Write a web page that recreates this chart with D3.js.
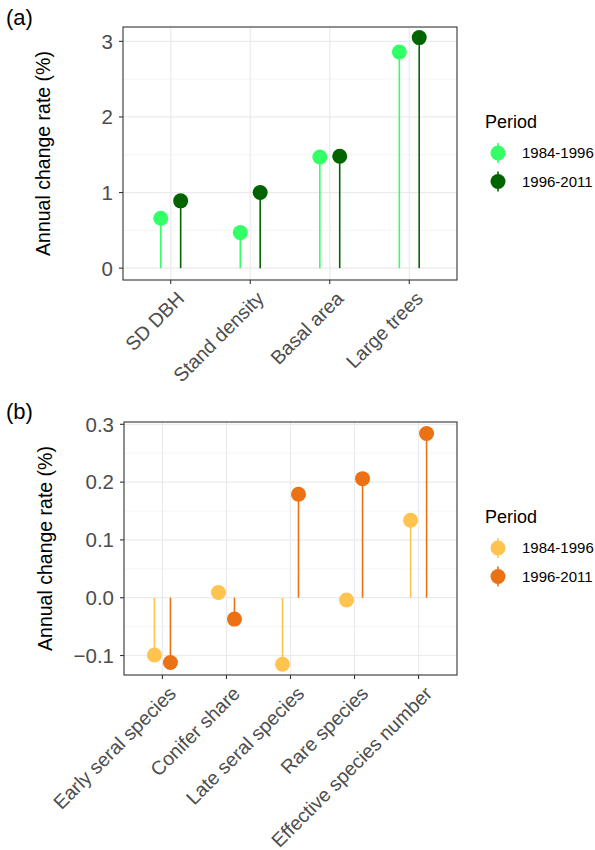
<!DOCTYPE html>
<html>
<head>
<meta charset="utf-8">
<script src="https://cdn.jsdelivr.net/npm/d3@7"></script>
<style>
  body { margin: 0; background: #fff; }
  svg { font-family: "Liberation Sans", Arial, sans-serif; }
</style>
</head>
<body>
<svg id="chart" width="595" height="850"></svg>
<script>
// panel (a)
var catsA = ["SD DBH", "Stand density", "Basal area", "Large trees"];
var earlyA = [0.66, 0.47, 1.47, 2.86];
var lateA = [0.89, 1.00, 1.48, 3.05];
var ticksA = [0, 1, 2, 3];
var minorA = [0.5, 1.5, 2.5];

// panel (b)
var catsB = ["Early seral species", "Conifer share", "Late seral species", "Rare species", "Effective species number"];
var earlyB = [-0.099, 0.009, -0.115, -0.004, 0.134];
var lateB = [-0.112, -0.037, 0.179, 0.206, 0.284];
var ticksB = [-0.1, 0.0, 0.1, 0.2, 0.3];
var minorB = [-0.05, 0.05, 0.15, 0.25];

var periods = ["1984-1996", "1996-2011"];

var svg = d3.select("#chart");

function drawPanel(o) {
  var g = svg.append("g");
  var x = d3.scalePoint().domain(o.cats).range([o.left, o.right]).padding(0.6);
  var y = d3.scaleLinear().domain(o.ydom).range([o.bottom, o.top]);
  var step = x.step();

  // grid
  g.selectAll(".minor").data(o.minor).enter().append("line")
    .attr("x1", o.left).attr("x2", o.right)
    .attr("y1", d => y(d)).attr("y2", d => y(d))
    .attr("stroke", "#f2f2f2").attr("stroke-width", 0.8);
  g.selectAll(".major").data(o.ticks).enter().append("line")
    .attr("x1", o.left).attr("x2", o.right)
    .attr("y1", d => y(d)).attr("y2", d => y(d))
    .attr("stroke", "#ebebeb").attr("stroke-width", 1.2);
  g.selectAll(".vmajor").data(o.cats).enter().append("line")
    .attr("x1", d => x(d)).attr("x2", d => x(d))
    .attr("y1", o.top).attr("y2", o.bottom)
    .attr("stroke", "#ebebeb").attr("stroke-width", 1.2);

  // lollipops
  var series = [o.early, o.late];
  series.forEach(function(vals, si) {
    var off = (si == 0 ? -0.125 : 0.125) * step;
    var col = o.colors[si];
    g.selectAll(".stem" + si).data(vals).enter().append("line")
      .attr("x1", (d, i) => x(o.cats[i]) + off).attr("x2", (d, i) => x(o.cats[i]) + off)
      .attr("y1", y(0)).attr("y2", d => y(d))
      .attr("stroke", col).attr("stroke-width", 1.6);
    g.selectAll(".dot" + si).data(vals).enter().append("circle")
      .attr("cx", (d, i) => x(o.cats[i]) + off).attr("cy", d => y(d))
      .attr("r", 7.5).attr("fill", col);
  });

  // border
  g.append("rect").attr("x", o.left).attr("y", o.top)
    .attr("width", o.right - o.left).attr("height", o.bottom - o.top)
    .attr("fill", "none").attr("stroke", "#333").attr("stroke-width", 1.1);

  // y axis ticks
  g.selectAll(".yt").data(o.ticks).enter().append("line")
    .attr("x1", o.left - 4).attr("x2", o.left)
    .attr("y1", d => y(d)).attr("y2", d => y(d))
    .attr("stroke", "#333").attr("stroke-width", 1.1);
  g.selectAll(".yl").data(o.ticks).enter().append("text")
    .attr("x", o.left - 10).attr("y", d => y(d)).attr("dy", "0.36em")
    .attr("text-anchor", "end").attr("font-size", 20.5).attr("fill", "#4d4d4d")
    .text(d => o.fmt(d));

  // x axis ticks
  g.selectAll(".xt").data(o.cats).enter().append("line")
    .attr("x1", d => x(d)).attr("x2", d => x(d))
    .attr("y1", o.bottom).attr("y2", o.bottom + 4)
    .attr("stroke", "#333").attr("stroke-width", 1.1);
  g.selectAll(".xl").data(o.cats).enter().append("text")
    .attr("transform", d => "translate(" + (x(d) + 5) + "," + (o.bottom + 10) + ") rotate(-45)")
    .attr("dy", "0.71em")
    .attr("text-anchor", "end").attr("font-size", 19.5).attr("fill", "#4d4d4d")
    .text(d => d);

  // y title
  g.append("text")
    .attr("transform", "translate(" + o.titleX + "," + ((o.top + o.bottom) / 2) + ") rotate(-90)")
    .attr("text-anchor", "middle").attr("font-size", 19.5).attr("fill", "#000")
    .text("Annual change rate (%)");

  // panel tag
  g.append("text").attr("x", 6).attr("y", o.tagY)
    .attr("font-size", 22).attr("fill", "#000").text(o.tag);

  // legend
  var lg = g.append("g");
  lg.append("text").attr("x", 485).attr("y", o.legY)
    .attr("font-size", 18).attr("fill", "#000").text("Period");
  periods.forEach(function(p, i) {
    var cy = o.legY + 25 + i * 28.5;
    lg.append("line").attr("x1", 498).attr("x2", 498)
      .attr("y1", cy - 10).attr("y2", cy + 10)
      .attr("stroke", o.colors[i]).attr("stroke-width", 1.6);
    lg.append("circle").attr("cx", 498).attr("cy", cy).attr("r", 7.5)
      .attr("fill", o.colors[i]);
    lg.append("text").attr("x", 522).attr("y", cy).attr("dy", "0.36em")
      .attr("font-size", 15).attr("fill", "#000").text(p);
  });
}

drawPanel({
  cats: catsA, early: earlyA, late: lateA, ticks: ticksA, minor: minorA,
  ydom: [-0.157, 3.19], left: 123, right: 457, top: 27, bottom: 280,
  colors: ["#33ff66", "#006400"], fmt: d3.format("d"),
  titleX: 50, tag: "(a)", tagY: 25, legY: 128
});

drawPanel({
  cats: catsB, early: earlyB, late: lateB, ticks: ticksB, minor: minorB,
  ydom: [-0.1337, 0.304], left: 124, right: 457, top: 422, bottom: 675,
  colors: ["#fec44f", "#ec7014"], fmt: d3.format(".1f"),
  titleX: 52, tag: "(b)", tagY: 419, legY: 523
});
</script>
</body>
</html>
